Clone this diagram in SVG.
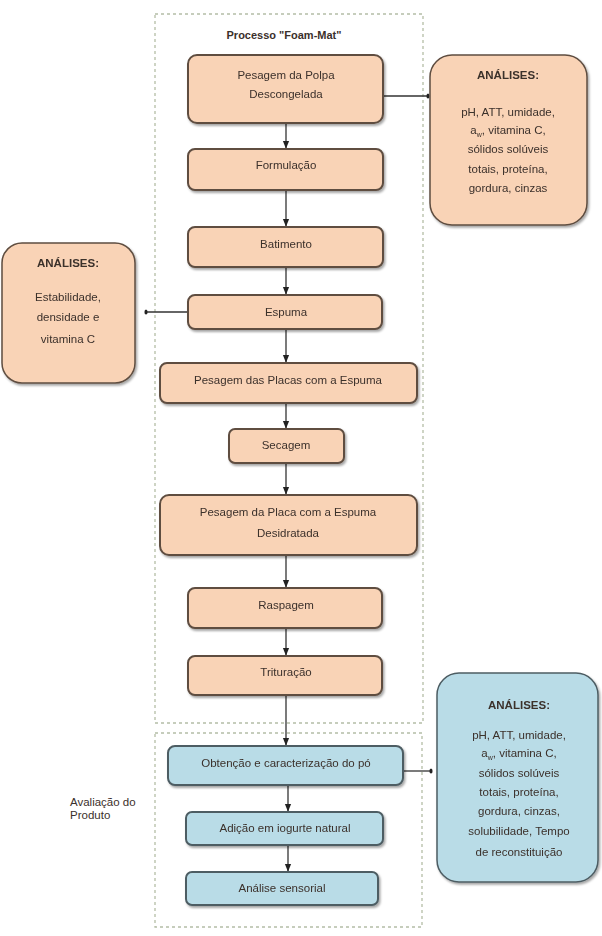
<svg xmlns="http://www.w3.org/2000/svg" width="602" height="936" viewBox="0 0 602 936">
<defs>
<style>
.cont{fill:none;stroke:#b4bda6;stroke-width:1.3;stroke-dasharray:3 3}
.p{fill:#f9d3b6;stroke:#5e4d40;stroke-width:2}
.b{fill:#b9dce7;stroke:#4d5d63;stroke-width:2}
.pa{fill:#f9d3b6;stroke:#5e4d40;stroke-width:1.5}
.ba{fill:#b9dce7;stroke:#4d5d63;stroke-width:1.5}
text{font-family:"Liberation Sans",Arial,sans-serif;font-size:11.5px;fill:#3b302b;text-anchor:middle}
.h{font-weight:bold;font-size:11.5px}
.l{text-anchor:start}
.c{stroke:#333;stroke-width:1.3;fill:none}
</style>
<marker id="ar" viewBox="0 0 10 10" refX="9" refY="5" markerWidth="6" markerHeight="6" orient="auto">
<path d="M0,1 L10,5 L0,9 z" fill="#222"/>
</marker>
<marker id="dt" viewBox="0 0 10 10" refX="5" refY="5" markerWidth="4" markerHeight="5" orient="auto">
<ellipse cx="5" cy="5" rx="3" ry="5" fill="#222"/>
</marker>
<filter id="sh" x="-10%" y="-10%" width="130%" height="140%">
<feDropShadow dx="1.5" dy="2" stdDeviation="1" flood-color="#000" flood-opacity="0.35"/>
</filter>
</defs>
<rect width="602" height="936" fill="#fff"/>

<g id="container-foam">
<rect class="cont" x="155" y="14" width="268" height="709"/>
<text x="284" y="39" class="h" style="font-size:11px">Processo "Foam-Mat"</text>
</g>
<g id="container-avaliacao">
<rect class="cont" x="155" y="733" width="267" height="194"/>
<text x="70" y="806" class="l" style="font-size:11.5px">Avaliação do</text>
<text x="70" y="819" class="l" style="font-size:11.5px">Produto</text>
</g>

<g id="connectors">
<line class="c" x1="286" y1="123" x2="286" y2="148" marker-end="url(#ar)"/>
<line class="c" x1="286" y1="190" x2="286" y2="226" marker-end="url(#ar)"/>
<line class="c" x1="286" y1="267" x2="286" y2="294" marker-end="url(#ar)"/>
<line class="c" x1="286" y1="329" x2="286" y2="362" marker-end="url(#ar)"/>
<line class="c" x1="286" y1="403" x2="286" y2="428" marker-end="url(#ar)"/>
<line class="c" x1="286" y1="463" x2="286" y2="494" marker-end="url(#ar)"/>
<line class="c" x1="286" y1="555" x2="286" y2="587" marker-end="url(#ar)"/>
<line class="c" x1="286" y1="628" x2="286" y2="655" marker-end="url(#ar)"/>
<line class="c" x1="286" y1="695" x2="286" y2="745" marker-end="url(#ar)"/>
<line class="c" x1="288" y1="785" x2="288" y2="811" marker-end="url(#ar)"/>
<line class="c" x1="288" y1="845" x2="288" y2="871" marker-end="url(#ar)"/>
<line class="c" x1="383" y1="96" x2="428" y2="96" marker-end="url(#dt)"/>
<line class="c" x1="188" y1="312" x2="146" y2="312" marker-end="url(#dt)"/>
<line class="c" x1="403" y1="771" x2="431" y2="771" marker-end="url(#dt)"/>
</g>

<g id="n-pesagem-polpa" filter="url(#sh)">
<rect class="p" x="188" y="55" width="195" height="68" rx="9"/>
<text x="286" y="79">Pesagem da Polpa</text>
<text x="286" y="98">Descongelada</text>
</g>
<g id="n-formulacao" filter="url(#sh)">
<rect class="p" x="188" y="149" width="195" height="41" rx="7"/>
<text x="286" y="169">Formulação</text>
</g>
<g id="n-batimento" filter="url(#sh)">
<rect class="p" x="188" y="227" width="195" height="40" rx="7"/>
<text x="286" y="248">Batimento</text>
</g>
<g id="n-espuma" filter="url(#sh)">
<rect class="p" x="188" y="295" width="194" height="34" rx="7"/>
<text x="286" y="316">Espuma</text>
</g>
<g id="n-pesagem-placas" filter="url(#sh)">
<rect class="p" x="160" y="363" width="257" height="40" rx="7"/>
<text x="288" y="384">Pesagem das Placas com a Espuma</text>
</g>
<g id="n-secagem" filter="url(#sh)">
<rect class="p" x="229" y="429" width="115" height="34" rx="6"/>
<text x="286" y="449">Secagem</text>
</g>
<g id="n-pesagem-placa-desidratada" filter="url(#sh)">
<rect class="p" x="160" y="495" width="257" height="60" rx="9"/>
<text x="288" y="516">Pesagem da Placa com a Espuma</text>
<text x="288" y="537">Desidratada</text>
</g>
<g id="n-raspagem" filter="url(#sh)">
<rect class="p" x="188" y="588" width="194" height="40" rx="7"/>
<text x="286" y="609">Raspagem</text>
</g>
<g id="n-trituracao" filter="url(#sh)">
<rect class="p" x="188" y="656" width="194" height="39" rx="7"/>
<text x="286" y="676">Trituração</text>
</g>
<g id="n-obtencao" filter="url(#sh)">
<rect class="b" x="168" y="746" width="235" height="39" rx="7"/>
<text x="286" y="767">Obtenção e caracterização do pó</text>
</g>
<g id="n-adicao" filter="url(#sh)">
<rect class="b" x="186" y="812" width="197" height="33" rx="6"/>
<text x="285" y="832">Adição em iogurte natural</text>
</g>
<g id="n-analise-sensorial" filter="url(#sh)">
<rect class="b" x="186" y="872" width="192" height="33" rx="6"/>
<text x="282" y="892">Análise sensorial</text>
</g>

<g id="n-analises-1" filter="url(#sh)">
<rect class="pa" x="430" y="55" width="157" height="170" rx="22"/>
<text x="508" y="79" class="h">ANÁLISES:</text>
<text x="508" y="116">pH, ATT, umidade,</text>
<text x="508" y="134">a<tspan font-size="7" dy="3">w</tspan><tspan dy="-3">, vitamina C,</tspan></text>
<text x="508" y="153">sólidos solúveis</text>
<text x="508" y="173">totais, proteína,</text>
<text x="508" y="192">gordura,  cinzas</text>
</g>
<g id="n-analises-2" filter="url(#sh)">
<rect class="pa" x="2" y="243" width="133" height="140" rx="20"/>
<text x="68" y="267" class="h">ANÁLISES:</text>
<text x="68" y="301">Estabilidade,</text>
<text x="68" y="321">densidade  e</text>
<text x="68" y="343">vitamina C</text>
</g>
<g id="n-analises-3" filter="url(#sh)">
<rect class="ba" x="437" y="673" width="161" height="209" rx="22"/>
<text x="519" y="709" class="h">ANÁLISES:</text>
<text x="519" y="739">pH, ATT, umidade,</text>
<text x="519" y="757">a<tspan font-size="7" dy="3">w</tspan><tspan dy="-3">, vitamina C,</tspan></text>
<text x="519" y="777">sólidos solúveis</text>
<text x="519" y="796">totais, proteína,</text>
<text x="519" y="815">gordura,  cinzas,</text>
<text x="519" y="835">solubilidade, Tempo</text>
<text x="519" y="856">de reconstituição</text>
</g>
</svg>
